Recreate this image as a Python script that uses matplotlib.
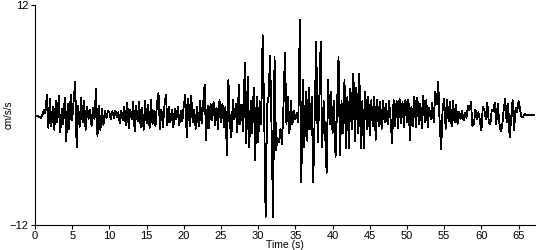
import numpy as np
import matplotlib.pyplot as plt

plt.rcParams['font.family'] = ['Liberation Sans', 'DejaVu Sans']

# sample step of the record (s)
dt = 0.2

# acceleration, cm/s/s, every 0.2 s (one row = 2 s)
accel = [
    0.0, -0.1, -0.1, -0.2, -0.3, 0.0, 0.6, 0.2, 2.2, -1.4,
    1.8, -1.2, 0.9, -1.6, 1.5, -0.8, 2.1, -1.9, 0.7, -1.0,
    1.9, -2.9, 1.2, -1.5, 2.2, -0.6, 1.6, 3.6, -3.5, 1.0,
    -1.3, 1.9, -0.8, 1.5, -1.6, 0.9, -0.4, 0.6, -1.2, 0.8,
    -0.5, 2.8, -2.3, 1.0, -1.6, 0.7, -1.1, 0.5, -0.3, 0.4,
    0.3, -0.5, 0.4, -0.3, 0.5, -0.2, 0.3, -0.9, 0.5, -0.6,
    0.9, -1.1, 1.3, -1.4, 0.6, -0.5, 1.4, -1.8, 1.0, -0.7,
    1.4, -1.3, 0.8, -1.6, 1.5, -0.9, 1.1, -1.4, 1.6, -1.0,
    0.5, -1.2, 1.3, 2.4, -1.5, 0.6, -1.3, 1.0, 2.2, -1.1,
    0.9, -0.8, 0.6, -1.3, 0.7, -0.5, 0.9, -1.1, 0.4, -0.7,
    1.0, 2.2, -2.4, 1.8, -1.2, 2.1, -0.8, 0.6, -1.5, 0.9,
    -1.2, 1.5, -0.9, 1.1, 3.3, -2.7, 1.0, -1.4, 1.2, -0.6,
    1.4, -1.1, 0.8, -1.5, 1.6, -0.8, 1.2, -1.3, 0.9, -4.4,
    3.8, -1.0, -2.4, 1.7, -0.5, 1.2, -1.9, 3.3, -1.0, 1.1,
    -1.8, 5.7, -3.1, 4.2, -3.5, 1.5, -2.0, 3.0, -4.9, 2.0,
    -3.0, 1.5, -1.0, 8.7, 0.5, -11.1, 1.0, 2.0, 6.5, -1.5,
    -11.1, 6.3, -3.8, -2.5, -3.0, -1.5, -3.2, 1.0, 6.8, -1.0,
    2.0, -2.0, 1.5, -1.0, 0.5, -0.5, 0.2, -0.8, 10.4, -7.3,
    3.8, -3.5, 2.5, -2.8, 3.0, -1.5, 2.0, -7.3, 0.0, 8.0,
    -3.0, 1.0, 8.0, -3.5, 1.5, -2.0, -6.3, 3.8, -1.0, 2.5,
    -2.0, 1.5, -4.6, 1.0, 6.3, -4.4, 1.5, -2.0, 3.8, -3.6,
    2.0, -3.6, 2.9, -1.5, 4.5, -2.8, 3.0, -2.0, 4.5, -3.6,
    1.5, -3.6, 2.5, -1.5, 2.0, -2.2, 1.6, -1.2, 2.0, -2.7,
    1.6, -1.2, 1.4, -1.5, 1.5, -0.8, 1.2, -1.0, 1.5, -0.5,
    -3.1, 1.6, -1.2, 1.5, -1.4, 1.8, -0.9, 1.4, -1.3, 1.7,
    -0.8, 1.7, -2.7, 0.9, -1.2, 2.0, -1.3, 1.9, -1.0, 1.2,
    -1.4, 2.1, -0.8, 1.6, -1.3, 0.8, -0.5, 1.3, -0.8, 2.5,
    1.2, 3.6, -1.0, -3.7, 0.8, 1.8, -1.5, 1.6, -0.7, 1.4,
    -1.2, 1.5, -0.8, 1.1, -1.0, 0.3, -0.4, 0.5, -0.6, 0.2,
    -0.3, 1.0, 0.5, 1.4, -1.2, -1.0, 0.6, -0.5, 0.3, -0.6,
    -1.7, 0.9, 0.5, -0.4, 1.3, -0.8, -1.0, 0.6, 0.4, 1.3,
    -1.0, 1.2, -0.8, -1.8, -1.2, 0.6, 1.8, -0.8, 1.2, -2.4,
    -0.5, 1.6, -1.6, 0.8, 0.3, 1.5, 0.6, -0.2, -0.2, 0.1,
    0.0, 0.0, 0.0, 0.0, 0.0, 0.0, 0.0,
]
time = np.arange(len(accel)) * dt

x_ticks = list(range(0, 70, 5))
y_ticks = [-12, 12]

fig = plt.figure(figsize=(5.5, 2.5), dpi=100)
ax = fig.add_axes([0.0636, 0.1, 0.909, 0.88])

ax.plot(time, accel, color='black', linewidth=0.6, antialiased=False)

ax.set_xlim(0, time[-1])
ax.set_ylim(-12, 12)
ax.set_xticks(x_ticks)
ax.set_yticks(y_ticks)
ax.tick_params(labelsize=8, length=3, width=0.8, pad=1.5)

for side in ['top', 'right']:
    ax.spines[side].set_visible(False)
for side in ['left', 'bottom']:
    ax.spines[side].set_linewidth(0.8)

ax.set_xlabel('Time (s)', fontsize=7.5, labelpad=-1)
ax.set_ylabel('cm/s/s', fontsize=7, labelpad=-3)

fig.savefig('out.png', dpi=100)
